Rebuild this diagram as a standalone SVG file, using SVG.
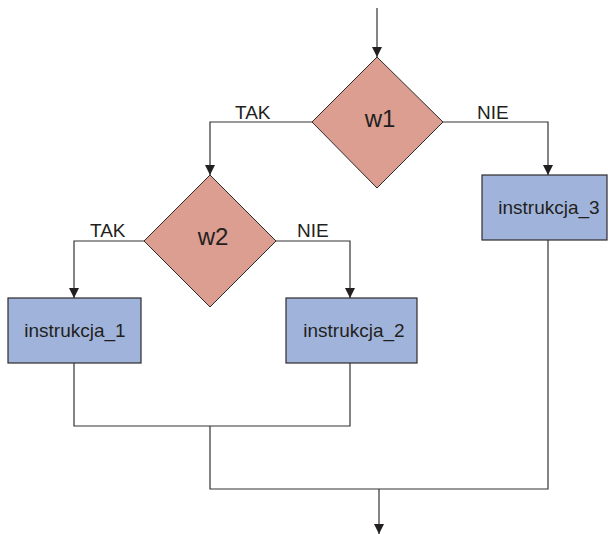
<svg xmlns="http://www.w3.org/2000/svg" width="608" height="534" viewBox="0 0 608 534">
  <style>
    .dec { fill: #dc9e91; stroke: #2e2a2a; stroke-width: 1; }
    .box { fill: #a0b4db; stroke: #2e2a2a; stroke-width: 1.2; }
    .line { fill: none; stroke: #333; stroke-width: 1.2; }
    text { font-family: "Liberation Sans", Arial, sans-serif; fill: #231f20; }
    .lbl { font-size: 19px; }
    .cond { font-size: 24px; }
  </style>
  <defs>
    <!-- filled triangular arrowhead, tip at the end of the line -->
    <marker id="arrow" markerUnits="userSpaceOnUse" markerWidth="12" markerHeight="12" viewBox="0 0 12 12" refX="11" refY="6" orient="auto">
      <path d="M1,1 L11,6 L1,11 Z" fill="#231f20"/>
    </marker>
  </defs>
  <rect width="608" height="534" fill="#fff"/>

  <g id="connectors">
    <path class="line" d="M377,8 V57" marker-end="url(#arrow)"/>
    <path class="line" d="M312,122 H210 V175" marker-end="url(#arrow)"/>
    <path class="line" d="M443,122 H548 V175" marker-end="url(#arrow)"/>
    <path class="line" d="M144,241 H74 V298" marker-end="url(#arrow)"/>
    <path class="line" d="M276,241 H350 V298" marker-end="url(#arrow)"/>
    <path class="line" d="M74,363 V426 H350 V363"/>
    <path class="line" d="M210,426 V489 H548 V240"/>
    <path class="line" d="M379,489 V534" marker-end="url(#arrow)"/>
    <text class="lbl" x="235" y="119">TAK</text>
    <text class="lbl" x="477" y="119">NIE</text>
    <text class="lbl" x="90" y="237">TAK</text>
    <text class="lbl" x="297" y="237">NIE</text>
  </g>

  <g id="w1">
    <polygon class="dec" points="377,57 443,122 377,188 312,122"/>
    <text class="cond" x="380" y="127" text-anchor="middle">w1</text>
  </g>
  <g id="w2">
    <polygon class="dec" points="210,175 276,241 210,307 144,241"/>
    <text class="cond" x="213" y="245" text-anchor="middle">w2</text>
  </g>
  <g id="instrukcja_1">
    <rect class="box" x="8" y="298" width="133" height="65"/>
    <text class="lbl" x="75" y="337" text-anchor="middle">instrukcja_1</text>
  </g>
  <g id="instrukcja_2">
    <rect class="box" x="286" y="298" width="131" height="65"/>
    <text class="lbl" x="354" y="337" text-anchor="middle">instrukcja_2</text>
  </g>
  <g id="instrukcja_3">
    <rect class="box" x="482" y="175" width="125" height="65"/>
    <text class="lbl" x="549" y="214" text-anchor="middle">instrukcja_3</text>
  </g>
</svg>
